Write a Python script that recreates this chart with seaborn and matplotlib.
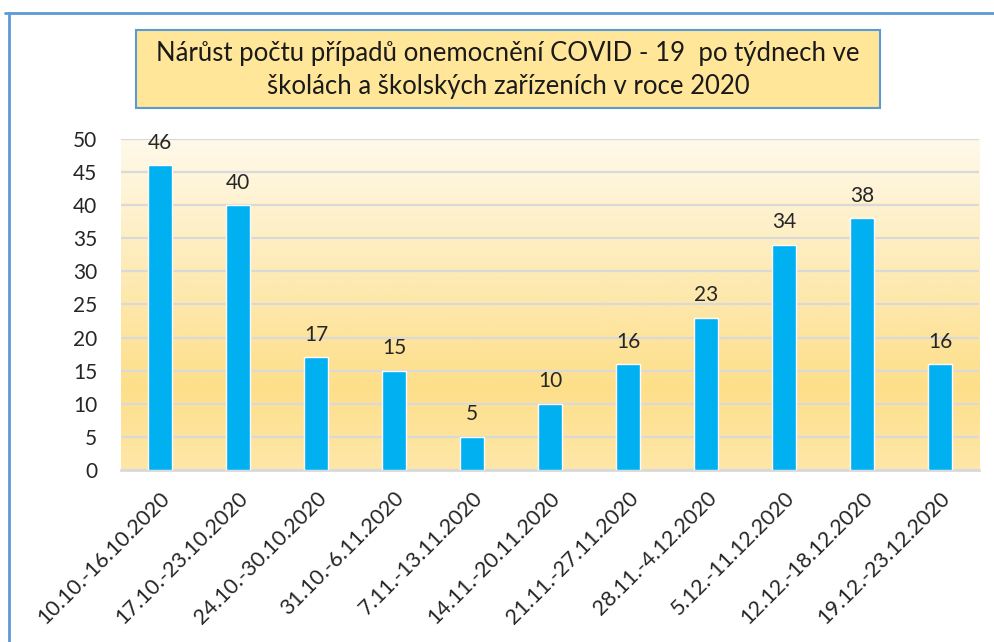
import numpy as np
import pandas as pd
import matplotlib.pyplot as plt
import seaborn as sns
from matplotlib.colors import LinearSegmentedColormap
from matplotlib.patches import Rectangle
from matplotlib.lines import Line2D

# data
weeks = ["10.10.-16.10.2020", "17.10.-23.10.2020", "24.10.-30.10.2020",
         "31.10.-6.11.2020", "7.11.-13.11.2020", "14.11.-20.11.2020",
         "21.11.-27.11.2020", "28.11.-4.12.2020", "5.12.-11.12.2020",
         "12.12.-18.12.2020", "19.12.-23.12.2020"]
cases = [46, 40, 17, 15, 5, 10, 16, 23, 34, 38, 16]
y_ticks = [0, 5, 10, 15, 20, 25, 30, 35, 40, 45, 50]

title = "Nárůst počtu případů onemocnění COVID - 19  po týdnech ve\nškolách a školských zařízeních v roce 2020"

df = pd.DataFrame({"week": weeks, "cases": cases})

sns.set_theme(style="white")
plt.rcParams["font.family"] = ["Lato", "DejaVu Sans"]

fig = plt.figure(figsize=(9.94, 6.42), dpi=100)
ax = fig.add_axes([0.1217, 0.268, 0.8633, 0.5155])

# gradient background of plot area
grad = LinearSegmentedColormap.from_list(
    "bg", [(0.0, "#FEE7A8"), (0.25, "#FDDF8A"), (0.6, "#FDEBB6"), (1.0, "#FFF9EA")])
ax.imshow(np.linspace(0, 1, 256).reshape(-1, 1), cmap=grad, origin="lower",
          aspect="auto", extent=[0, 1, 0, 1], transform=ax.transAxes, zorder=0)

sns.barplot(data=df, x="week", y="cases", color="#00B0F0", width=0.31,
            saturation=1, ax=ax, zorder=3)

ax.set_xlim(-0.5, len(weeks) - 0.5)
ax.set_ylim(0, 50)
ax.set_yticks(y_ticks)
ax.yaxis.grid(True, color="#D9D9D9", linewidth=1.6, zorder=1)
ax.set_axisbelow(True)
for s in ["left", "right", "top"]:
    ax.spines[s].set_visible(False)
ax.spines["bottom"].set_color("#D9D9D9")
ax.spines["bottom"].set_linewidth(2)
ax.set_xlabel("")
ax.set_ylabel("")
ax.tick_params(axis="y", length=0, pad=17, labelsize=15, labelcolor="#262626")
ax.tick_params(axis="x", length=0, pad=13, labelsize=15.5, labelcolor="#262626")
plt.setp(ax.get_xticklabels(), rotation=45, ha="right", rotation_mode="anchor")

ax.bar_label(ax.containers[0], padding=9, fontsize=15, color="#262626")

# title box
fig.add_artist(Rectangle((136 / 994, 1 - 108 / 642), 744 / 994, 78 / 642,
                         transform=fig.transFigure, facecolor="#FFE699",
                         edgecolor="#5B9BD5", linewidth=1.5))
fig.text(508 / 994, 1 - 70 / 642, title, ha="center", va="center",
         fontsize=18.5, color="#1a1a1a", linespacing=1.4)

# outer frame (top and left edges)
fig.add_artist(Line2D([5 / 994, 1], [1 - 13 / 642, 1 - 13 / 642],
                      transform=fig.transFigure, color="#5B9BD5", linewidth=2))
fig.add_artist(Line2D([9 / 994, 9 / 994], [0, 1 - 13 / 642],
                      transform=fig.transFigure, color="#5B9BD5", linewidth=2))

fig.savefig("out.png", dpi=100)
